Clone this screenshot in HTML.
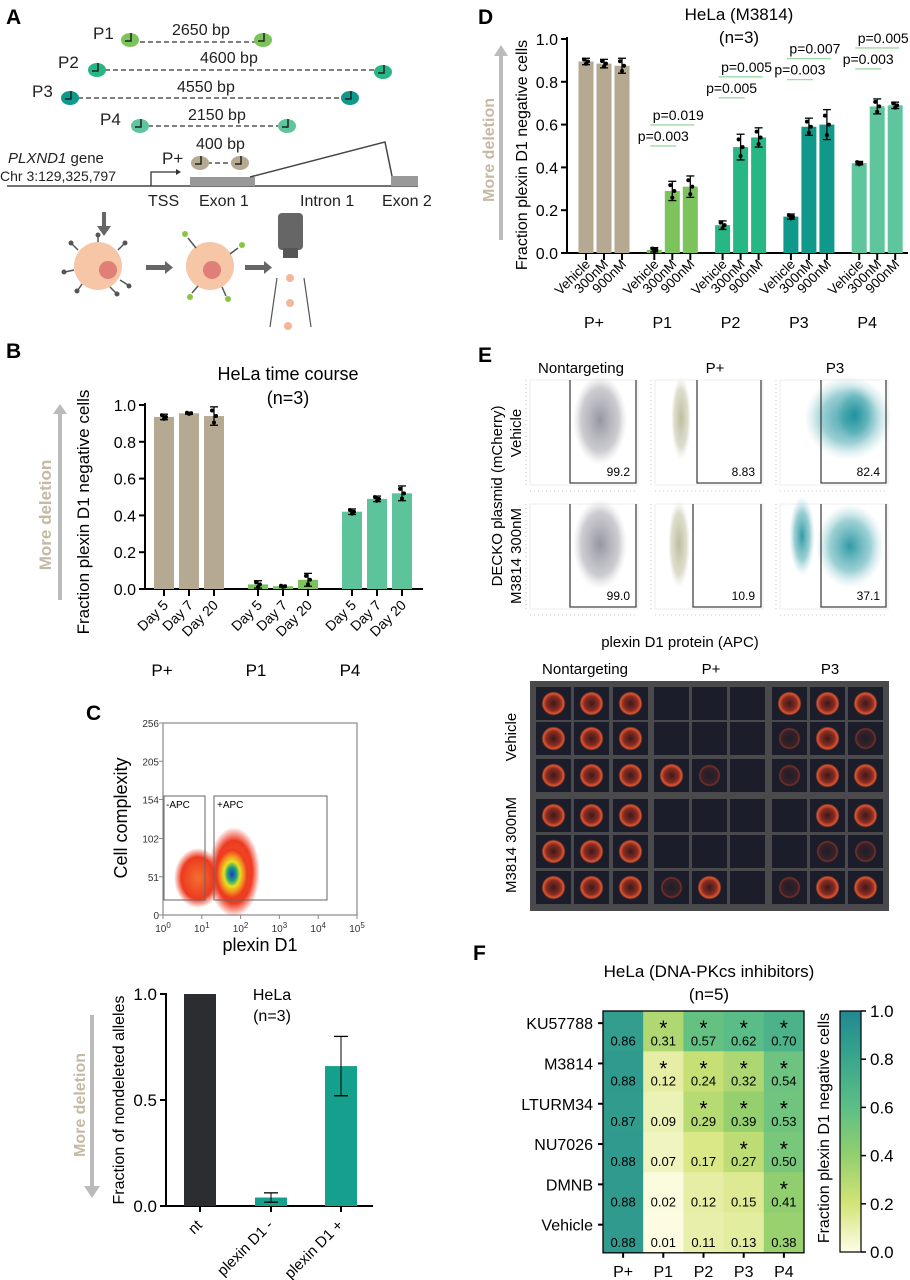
<!DOCTYPE html>
<html><head><meta charset="utf-8"><style>
html,body{margin:0;padding:0;background:#fff;}
svg{display:block;font-family:"Liberation Sans",Arial,sans-serif;}
</style></head><body>
<svg id="fig" width="910" height="1280" viewBox="0 0 910 1280" xmlns="http://www.w3.org/2000/svg">
<defs>
<radialGradient id="gGray"><stop offset="0" stop-color="#8a8a95" stop-opacity="0.9"/><stop offset="0.7" stop-color="#a9a9b2" stop-opacity="0.6"/><stop offset="1" stop-color="#c8c8cf" stop-opacity="0"/></radialGradient>
<radialGradient id="gOlive"><stop offset="0" stop-color="#b9b99a" stop-opacity="0.95"/><stop offset="0.7" stop-color="#c8c8ad" stop-opacity="0.6"/><stop offset="1" stop-color="#dcdccb" stop-opacity="0"/></radialGradient>
<radialGradient id="gTeal"><stop offset="0" stop-color="#1a8f9a" stop-opacity="0.9"/><stop offset="0.6" stop-color="#4aa9b2" stop-opacity="0.55"/><stop offset="1" stop-color="#9fd0d5" stop-opacity="0"/></radialGradient>
<radialGradient id="gCell"><stop offset="0" stop-color="#3a1a1a"/><stop offset="0.6" stop-color="#8a2c22"/><stop offset="0.85" stop-color="#e0552e"/><stop offset="1" stop-color="#1b1e2a"/></radialGradient>
<radialGradient id="gCellF"><stop offset="0" stop-color="#1e1d28"/><stop offset="0.75" stop-color="#3a2228"/><stop offset="0.88" stop-color="#7a3228"/><stop offset="1" stop-color="#1b1e2a"/></radialGradient>
<radialGradient id="gJet"><stop offset="0" stop-color="#1a3ad0"/><stop offset="0.25" stop-color="#1fa07a"/><stop offset="0.45" stop-color="#e8e020"/><stop offset="0.65" stop-color="#f29020"/><stop offset="0.85" stop-color="#ee3a20"/><stop offset="1" stop-color="#ee3a20" stop-opacity="0"/></radialGradient>
<radialGradient id="gRed"><stop offset="0" stop-color="#f07030"/><stop offset="0.7" stop-color="#ee3a20"/><stop offset="1" stop-color="#ee3a20" stop-opacity="0"/></radialGradient>
<linearGradient id="cbar" x1="0" y1="1" x2="0" y2="0">
<stop offset="0" stop-color="#fffde8"/><stop offset="0.2" stop-color="#d3e477"/><stop offset="0.4" stop-color="#93cf6e"/><stop offset="0.6" stop-color="#5dbe86"/><stop offset="0.8" stop-color="#3aa68c"/><stop offset="1" stop-color="#218892"/>
</linearGradient>
</defs>

<g font-weight="bold" font-size="21" fill="#000">
<text x="6" y="24">A</text>
<text x="6" y="358">B</text>
<text x="86" y="720">C</text>
<text x="478" y="24">D</text>
<text x="478" y="362">E</text>
<text x="473" y="960">F</text>
</g>

<g id="panelA" font-size="16" fill="#222">
<g stroke="#333" stroke-dasharray="5,3" stroke-width="1.2">
<line x1="140" y1="42" x2="255" y2="42"/><line x1="105" y1="70" x2="375" y2="70"/>
<line x1="78" y1="98" x2="343" y2="98"/><line x1="148" y1="126" x2="290" y2="126"/><line x1="207" y1="163" x2="235" y2="163"/>
</g>
<text x="93" y="39" font-size="17">P1</text>
<text x="172" y="35">2650 bp</text>
<text x="58" y="68" font-size="17">P2</text>
<text x="200" y="63">4600 bp</text>
<text x="32" y="97" font-size="17">P3</text>
<text x="177" y="92">4550 bp</text>
<text x="100" y="125" font-size="17">P4</text>
<text x="188" y="120">2150 bp</text>
<text x="196" y="149">400 bp</text>
<text x="162" y="164" font-size="17">P+</text>
<g id="guides"></g>
<text x="8" y="163" font-size="15"><tspan font-style="italic">PLXND1</tspan> gene</text>
<text x="0" y="181" font-size="14">Chr 3:129,325,797</text>
<line x1="7" y1="186" x2="418" y2="186" stroke="#444" stroke-width="1.5"/>
<rect x="190" y="177" width="65" height="9" fill="#999"/>
<rect x="391" y="176" width="27" height="10" fill="#999"/>
<polyline points="250,177 385,142 392,176" fill="none" stroke="#444" stroke-width="1.5"/>
<polyline points="151,186 151,172 176,172" fill="none" stroke="#333" stroke-width="1.3"/>
<polygon points="176,169 181,172 176,175" fill="#333"/>
<text x="148" y="206">TSS</text><text x="199" y="206">Exon 1</text><text x="300" y="206">Intron 1</text><text x="382" y="206">Exon 2</text>
<rect x="102" y="212" width="4" height="16" fill="#666"/><polygon points="97,226 111,226 104,236" fill="#666"/>
<circle cx="98" cy="266" r="24" fill="#f6c6a6"/><circle cx="108" cy="270" r="9" fill="#e07f78"/>
<circle cx="210" cy="266" r="24" fill="#f6c6a6"/><circle cx="212" cy="270" r="9" fill="#e07f78"/>
<g stroke="#555" stroke-width="1.5">
<line x1="78" y1="250" x2="72" y2="244"/><line x1="118" y1="250" x2="124" y2="244"/><line x1="74" y1="270" x2="65" y2="272"/><line x1="120" y1="280" x2="128" y2="285"/><line x1="98" y1="242" x2="98" y2="236"/><line x1="110" y1="287" x2="116" y2="293"/><line x1="82" y1="284" x2="78" y2="290"/>
<line x1="196" y1="248" x2="188" y2="238"/><line x1="230" y1="254" x2="238" y2="248"/><line x1="198" y1="286" x2="192" y2="293"/><line x1="222" y1="287" x2="226" y2="296"/>
</g>
<g fill="#555"><circle cx="71" cy="243" r="2.5"/><circle cx="125" cy="243" r="2.5"/><circle cx="64" cy="272" r="2.5"/><circle cx="129" cy="286" r="2.5"/><circle cx="98" cy="235" r="2.5"/><circle cx="117" cy="294" r="2.5"/><circle cx="77" cy="291" r="2.5"/></g>
<g fill="#8cc63f"><circle cx="185" cy="234" r="3"/><circle cx="242" cy="245" r="3"/><circle cx="190" cy="297" r="3"/><circle cx="228" cy="299" r="3"/></g>
<rect x="146" y="265" width="20" height="5" fill="#666"/><polygon points="165,261 173,267.5 165,274" fill="#666"/>
<rect x="245" y="265" width="20" height="5" fill="#666"/><polygon points="264,261 272,267.5 264,274" fill="#666"/>
<rect x="278" y="213" width="25" height="37" rx="4" fill="#666"/><rect x="283" y="248" width="15" height="10" fill="#555"/>
<line x1="277" y1="278" x2="270" y2="327" stroke="#555" stroke-width="1.2"/><line x1="304" y1="278" x2="311" y2="327" stroke="#555" stroke-width="1.2"/>
<g fill="#f2b79a"><circle cx="290" cy="278" r="4"/><circle cx="290" cy="303" r="4"/><circle cx="288" cy="326" r="4"/></g>
</g>

<g id="panelB"></g>
<g id="panelC"></g>
<g id="panelC2"></g>
<g id="panelD"></g>
<g id="panelE"></g>
<g id="panelF"></g>
</svg>

<script>
// ---- Panel B data ----
const bGroups = ["P+","P1","P4"];
const bTicks = ["Day 5","Day 7","Day 20"];
const bValues = [[0.935,0.955,0.94],[0.025,0.015,0.05],[0.42,0.49,0.52]];
const bErr = [[0.015,0.005,0.05],[0.02,0.005,0.035],[0.015,0.015,0.04]];
const bYTicks = [0,0.2,0.4,0.6,0.8,1.0];
// ---- Panel C bar data ----
const cCats = ["nt","plexin D1 -","plexin D1 +"];
const cValues = [1.0,0.04,0.66];
const cErr = [0.0,0.022,0.14];
const cYTicks = [0,0.5,1.0];
// ---- Panel D data ----
const dGroups = ["P+","P1","P2","P3","P4"];
const dTicks = ["Vehicle","300nM","900nM"];
const dValues = [[0.895,0.885,0.875],[0.015,0.29,0.31],[0.13,0.495,0.54],[0.17,0.59,0.60],[0.42,0.685,0.69]];
const dErr = [[0.015,0.02,0.035],[0.01,0.045,0.05],[0.02,0.06,0.045],[0.012,0.04,0.07],[0.008,0.035,0.015]];
const dPvals = [[],["p=0.003","p=0.019"],["p=0.005","p=0.005"],["p=0.003","p=0.007"],["p=0.003","p=0.005"]];
const dYTicks = [0,0.2,0.4,0.6,0.8,1.0];
// ---- Panel E data ----
const eCols = ["Nontargeting","P+","P3"];
const eRows = ["Vehicle","M3814 300nM"];
const ePct = [["99.2","8.83","82.4"],["99.0","10.9","37.1"]];
const eCellBright = [[2,2,2,0,0,0,2,2,2],[2,2,2,0,0,0,1,2,1],[2,2,2,2,1,0,1,2,2],[2,2,2,0,0,0,0,2,2],[2,2,2,0,0,0,0,1,1],[2,2,2,1,2,0,1,2,2]];
// ---- Panel F data ----
const fRows = ["KU57788","M3814","LTURM34","NU7026","DMNB","Vehicle"];
const fCols = ["P+","P1","P2","P3","P4"];
const fValues = [[0.86,0.31,0.57,0.62,0.70],[0.88,0.12,0.24,0.32,0.54],[0.87,0.09,0.29,0.39,0.53],[0.88,0.07,0.17,0.27,0.50],[0.88,0.02,0.12,0.15,0.41],[0.88,0.01,0.11,0.13,0.38]];
const fSig = [[0,1,1,1,1],[0,1,1,1,1],[0,0,1,1,1],[0,0,0,1,1],[0,0,0,0,1],[0,0,0,0,0]];
const fCbTicks = [0,0.2,0.4,0.6,0.8,1.0];

const NS="http://www.w3.org/2000/svg";
function mk(parent, tag, attrs, name, txt){
  const el=document.createElementNS(NS,tag);
  for(const k in attrs) el.setAttribute(k,attrs[k]);
  
  
  if(txt!==undefined) el.textContent=txt;
  parent.appendChild(el); return el;
}
function fmt(v,d){return v.toFixed(d);}

(function(){
  const g=document.getElementById('guides');
  const pts=[[130,40,"#7bc35a"],[263,40,"#7bc35a"],[97,70,"#27b784"],[383,72,"#27b784"],[70,98,"#10998a"],[350,98,"#10998a"],[140,126,"#5fc59d"],[287,126,"#5fc59d"],[200,163,"#b5aa91"],[240,163,"#b5aa91"]];
  pts.forEach(p=>{
    mk(g,'ellipse',{cx:p[0],cy:p[1],rx:9,ry:7,fill:p[2]},'sgrna-guide');
    mk(g,'polyline',{points:`${p[0]-5},${p[1]+1} ${p[0]+1},${p[1]+1} ${p[0]+1},${p[1]-7}`,fill:'none',stroke:'#222','stroke-width':1.5},'guide-stem');
  });
})();

function barChart(opts){
  const g=document.getElementById(opts.id);
  const y=v=>opts.y0-v*opts.ys;
  mk(g,'line',{x1:opts.ax,y1:y(1)-2,x2:opts.ax,y2:opts.y0,stroke:'#000','stroke-width':2},'y-axis');
  mk(g,'line',{x1:opts.ax-4,y1:opts.y0,x2:opts.axEnd,y2:opts.y0,stroke:'#000','stroke-width':2},'x-axis');
  opts.yticks.forEach(t=>{
    mk(g,'line',{x1:opts.ax-6,y1:y(t),x2:opts.ax,y2:y(t),stroke:'#000','stroke-width':2},'y-tick');
    mk(g,'text',{x:opts.ax-9,y:y(t)+6,'text-anchor':'end','font-size':opts.fs},'y-tick-label',fmt(t,1));
  });
  opts.values.forEach((grp,gi)=>{
    grp.forEach((v,bi)=>{
      const cx=opts.gx0+gi*opts.gstep+(bi-1)*opts.boff;
      mk(g,'rect',{x:cx-opts.bw/2,y:y(v),width:opts.bw,height:opts.y0-y(v),fill:opts.colors[gi]},'bar-'+opts.groups[gi]+'-'+opts.ticks[bi]);
      const e=opts.err[gi][bi];
      mk(g,'line',{x1:cx,y1:y(v+e),x2:cx,y2:y(Math.max(0,v-e)),stroke:'#000','stroke-width':1.3},'error-bar');
      mk(g,'line',{x1:cx-4,y1:y(v+e),x2:cx+4,y2:y(v+e),stroke:'#000','stroke-width':1.3},'error-cap');
      mk(g,'line',{x1:cx-4,y1:y(Math.max(0,v-e)),x2:cx+4,y2:y(Math.max(0,v-e)),stroke:'#000','stroke-width':1.3},'error-cap');
      mk(g,'circle',{cx:cx-2,cy:y(v+e*0.6),r:2,fill:'#000'},'data-point');
      mk(g,'circle',{cx:cx+2,cy:y(v),r:2,fill:'#000'},'data-point');
      mk(g,'circle',{cx:cx,cy:y(Math.max(0,v-e*0.7)),r:2,fill:'#000'},'data-point');
      mk(g,'line',{x1:cx,y1:opts.y0,x2:cx,y2:opts.y0+7,stroke:'#000','stroke-width':2},'x-tick');
      const tx=cx+5, ty=opts.y0+opts.tickDy;
      mk(g,'text',{x:tx,y:ty,'text-anchor':'end','font-size':opts.tfs,transform:`rotate(-45 ${tx} ${ty})`},'x-tick-label',opts.ticks[bi]);
    });
    mk(g,'text',{x:opts.gx0+gi*opts.gstep+opts.glDx,y:opts.glY,'text-anchor':'middle','font-size':opts.gfs},'group-label',opts.groups[gi]);
  });
}

barChart({id:'panelB',values:bValues,err:bErr,groups:bGroups,ticks:bTicks,yticks:bYTicks,
  colors:['#b5aa91','#7bc35a','#5cc39a'],ax:145,axEnd:423,y0:589,ys:184,gx0:189,gstep:94,boff:25,bw:20,
  fs:16,tfs:14,tickDy:17,gfs:17,glY:676,glDx:-27});
(function(){
  const g=document.getElementById('panelB');
  mk(g,'text',{x:288,y:380,'text-anchor':'middle','font-size':18},'chart-title','HeLa time course');
  mk(g,'text',{x:288,y:404,'text-anchor':'middle','font-size':18},'chart-subtitle','(n=3)');
  mk(g,'text',{x:0,y:0,'text-anchor':'middle','font-size':17,transform:'translate(89 512) rotate(-90)'},'y-axis-title','Fraction plexin D1 negative cells');
  mk(g,'text',{x:0,y:0,'text-anchor':'middle','font-size':17,'font-weight':'bold',fill:'#c4b9a2',transform:'translate(51 515) rotate(-90)'},'more-deletion-label','More deletion');
  mk(g,'line',{x1:60,y1:600,x2:60,y2:412,stroke:'#bbb','stroke-width':4},'more-deletion-arrow');
  mk(g,'polygon',{points:'53,414 67,414 60,404',fill:'#bbb'},'arrow-head');
})();

barChart({id:'panelD',values:dValues,err:dErr,groups:dGroups,ticks:dTicks,yticks:dYTicks,
  colors:['#b5aa91','#7bc35a','#27b784','#10998a','#5fc59d'],ax:567,axEnd:908,y0:253,ys:214,gx0:604,gstep:68.3,boff:18,bw:15,
  fs:16,tfs:13.5,tickDy:12,gfs:16,glY:328,glDx:-10});
(function(){
  const g=document.getElementById('panelD');
  mk(g,'text',{x:739,y:20,'text-anchor':'middle','font-size':17},'chart-title','HeLa (M3814)');
  mk(g,'text',{x:739,y:43,'text-anchor':'middle','font-size':17},'chart-subtitle','(n=3)');
  mk(g,'text',{x:0,y:0,'text-anchor':'middle','font-size':16,transform:'translate(527 155) rotate(-90)'},'y-axis-title','Fraction plexin D1 negative cells');
  mk(g,'text',{x:0,y:0,'text-anchor':'middle','font-size':16,'font-weight':'bold',fill:'#c4b9a2',transform:'translate(494 150) rotate(-90)'},'more-deletion-label','More deletion');
  mk(g,'line',{x1:501,y1:240,x2:501,y2:54,stroke:'#bbb','stroke-width':4},'more-deletion-arrow');
  mk(g,'polygon',{points:'494,56 508,56 501,45',fill:'#bbb'},'arrow-head');
  const y=v=>253-v*214;
  dPvals.forEach((pv,gi)=>{
    pv.forEach((p,k)=>{
      const gx=604+gi*68.3;
      const top=Math.max(dValues[gi][1]+dErr[gi][1],dValues[gi][2]+dErr[gi][2]);
      const ly=y(top)-30-k*21;
      const x1=gx-18-4, x2=gx+(k===0?0:18)+4;
      mk(g,'line',{x1:x1,y1:ly,x2:x2,y2:ly,stroke:'#9fd8a8','stroke-width':1.3},'significance-line');
      mk(g,'text',{x:(x1+x2)/2+(k?6:0),y:ly-5,'text-anchor':'middle','font-size':14},'p-value',p);
    });
  });
})();

(function(){
  const g=document.getElementById('panelC');
  const x0=163,x1=357,y0=915,y1=723;
  mk(g,'ellipse',{cx:198,cy:878,rx:24,ry:30,fill:'url(#gRed)'},'cloud-negative');
  mk(g,'ellipse',{cx:234,cy:872,rx:26,ry:45,fill:'url(#gRed)'},'cloud-positive');
  mk(g,'ellipse',{cx:232,cy:874,rx:18,ry:28,fill:'url(#gJet)'},'cloud-core');
  mk(g,'rect',{x:x0,y:y1,width:x1-x0,height:y0-y1,fill:'none',stroke:'#888','stroke-width':1.2},'plot-frame');
  mk(g,'rect',{x:164,y:796,width:41,height:104,fill:'none',stroke:'#666','stroke-width':1},'gate-negative');
  mk(g,'rect',{x:214,y:796,width:113,height:104,fill:'none',stroke:'#666','stroke-width':1},'gate-positive');
  mk(g,'text',{x:166,y:808,'font-size':10},'gate-label','-APC');
  mk(g,'text',{x:217,y:808,'font-size':10},'gate-label','+APC');
  const yt=[0,51,102,154,205,256];
  yt.forEach(t=>{const yy=y0-t/256*(y0-y1);
    mk(g,'line',{x1:x0-4,y1:yy,x2:x0,y2:yy,stroke:'#888'},'y-tick');
    mk(g,'text',{x:x0-4,y:yy+4,'text-anchor':'end','font-size':10,fill:'#333'},'y-tick-label',String(t));});
  for(let i=0;i<=5;i++){const xx=x0+i*(x1-x0)/5;
    mk(g,'line',{x1:xx,y1:y0,x2:xx,y2:y0+4,stroke:'#888'},'x-tick');
    const t=mk(g,'text',{x:xx,y:y0+17,'text-anchor':'middle','font-size':10,fill:'#333'},'x-tick-label','10');
    const s=document.createElementNS(NS,'tspan');s.setAttribute('dy','-4');s.setAttribute('font-size','8');s.textContent=String(i);t.appendChild(s);}
  mk(g,'text',{x:260,y:951,'text-anchor':'middle','font-size':18},'x-axis-title','plexin D1');
  mk(g,'text',{x:0,y:0,'text-anchor':'middle','font-size':18,transform:'translate(127 818) rotate(-90)'},'y-axis-title','Cell complexity');
})();

(function(){
  const g=document.getElementById('panelC2');
  const ax=166,y0=1206,ys=212,y=v=>y0-v*ys;
  const cx=[200,271,341],cols=['#2b2d30','#14a08c','#14a08c'];
  mk(g,'line',{x1:ax,y1:y(1)-1,x2:ax,y2:y0,stroke:'#000','stroke-width':2},'y-axis');
  mk(g,'line',{x1:ax,y1:y0,x2:373,y2:y0,stroke:'#000','stroke-width':2},'x-axis');
  cYTicks.forEach(t=>{mk(g,'line',{x1:ax-6,y1:y(t),x2:ax,y2:y(t),stroke:'#000','stroke-width':2},'y-tick');
    mk(g,'text',{x:ax-9,y:y(t)+6,'text-anchor':'end','font-size':17},'y-tick-label',fmt(t,1));});
  cValues.forEach((v,i)=>{
    mk(g,'rect',{x:cx[i]-16,y:y(v),width:32,height:y0-y(v),fill:cols[i]},'bar-'+cCats[i]);
    const e=cErr[i];
    if(e>0){mk(g,'line',{x1:cx[i],y1:y(v+e),x2:cx[i],y2:y(v-e),stroke:'#000'},'error-bar');
      mk(g,'line',{x1:cx[i]-7,y1:y(v+e),x2:cx[i]+7,y2:y(v+e),stroke:'#000','stroke-width':1.3},'error-cap');
      mk(g,'line',{x1:cx[i]-7,y1:y(v-e),x2:cx[i]+7,y2:y(v-e),stroke:'#000','stroke-width':1.3},'error-cap');}
    mk(g,'line',{x1:cx[i],y1:y0,x2:cx[i],y2:y0+6,stroke:'#000','stroke-width':2},'x-tick');
    const tx=cx[i]+3,ty=y0+20;
    mk(g,'text',{x:tx,y:ty,'text-anchor':'end','font-size':15,transform:`rotate(-45 ${tx} ${ty})`},'x-tick-label',cCats[i]);
  });
  mk(g,'text',{x:272,y:1000,'text-anchor':'middle','font-size':16},'chart-title','HeLa');
  mk(g,'text',{x:272,y:1021,'text-anchor':'middle','font-size':16},'chart-subtitle','(n=3)');
  mk(g,'text',{x:0,y:0,'text-anchor':'middle','font-size':16,transform:'translate(124 1100) rotate(-90)'},'y-axis-title','Fraction of nondeleted alleles');
  mk(g,'text',{x:0,y:0,'text-anchor':'middle','font-size':16,'font-weight':'bold',fill:'#c4b9a2',transform:'translate(85 1105) rotate(-90)'},'more-deletion-label','More deletion');
  mk(g,'line',{x1:92,y1:1015,x2:92,y2:1188,stroke:'#bbb','stroke-width':4},'more-deletion-arrow');
  mk(g,'polygon',{points:'84,1186 100,1186 92,1198',fill:'#bbb'},'arrow-head');
})();

(function(){
  const g=document.getElementById('panelE');
  const colX=[530,655,780],rowY=[380,504],w=108,h=105;
  const titleX=[581,715,835];
  eCols.forEach((c,i)=>mk(g,'text',{x:titleX[i],y:373,'text-anchor':'middle','font-size':15},'column-title',c));
  const gateX=[[40,42,41],[40,38,41]];
  const clouds=[
    [[{cx:70,cy:40,rx:27,ry:45,f:'url(#gGray)'}],[{cx:26,cy:38,rx:10,ry:42,f:'url(#gOlive)'}],[{cx:68,cy:38,rx:44,ry:42,f:'url(#gTeal)'},{cx:75,cy:35,rx:22,ry:30,f:'url(#gTeal)'}]],
    [[{cx:70,cy:40,rx:27,ry:45,f:'url(#gGray)'}],[{cx:24,cy:40,rx:11,ry:44,f:'url(#gOlive)'}],[{cx:22,cy:32,rx:13,ry:40,f:'url(#gTeal)'},{cx:70,cy:42,rx:34,ry:42,f:'url(#gTeal)'}]]];
  rowY.forEach((ry,r)=>colX.forEach((cxp,c)=>{
    mk(g,'rect',{x:cxp,y:ry,width:w,height:h,fill:'#fff',stroke:'#eee'},'flow-plot-frame');
    clouds[r][c].forEach(cl=>mk(g,'ellipse',{cx:cxp+cl.cx,cy:ry+cl.cy,rx:cl.rx,ry:cl.ry,fill:cl.f},'flow-cloud'));
    const gx=cxp+gateX[r][c];
    mk(g,'polyline',{points:`${gx},${ry} ${gx},${ry+h-2} ${cxp+w-2},${ry+h-2} ${cxp+w-2},${ry}`,fill:'none',stroke:'#444','stroke-width':1.3},'gate');
    mk(g,'text',{x:cxp+w-8,y:ry+h-9,'text-anchor':'end','font-size':12},'gate-percent',ePct[r][c]);
    mk(g,'line',{x1:cxp,y1:ry+h+6,x2:cxp+w,y2:ry+h+6,stroke:'#999','stroke-width':0.6,'stroke-dasharray':'1,3'},'x-axis');
    mk(g,'line',{x1:cxp-4,y1:ry,x2:cxp-4,y2:ry+h,stroke:'#999','stroke-width':0.6,'stroke-dasharray':'1,3'},'y-axis');
  }));
  mk(g,'text',{x:0,y:0,'text-anchor':'middle','font-size':15,transform:'translate(502 496) rotate(-90)'},'y-axis-title','DECKO plasmid (mCherry)');
  mk(g,'text',{x:0,y:0,'text-anchor':'middle','font-size':15,transform:'translate(521 433) rotate(-90)'},'row-label','Vehicle');
  mk(g,'text',{x:0,y:0,'text-anchor':'middle','font-size':15,transform:'translate(521 556) rotate(-90)'},'row-label','M3814 300nM');
  mk(g,'text',{x:680,y:647,'text-anchor':'middle','font-size':15},'x-axis-title','plexin D1 protein (APC)');
  eCols.forEach((c,i)=>mk(g,'text',{x:[585,711,830][i],y:674,'text-anchor':'middle','font-size':15},'image-column-title',c));
  mk(g,'rect',{x:530,y:681,width:359,height:230,fill:'#4a4a4c'},'image-grid');
  const tx=[536,574,613,654,692,730,772,810,848],ty=[687,722,759,799,835,871];
  ty.forEach((yy,r)=>tx.forEach((xx,c)=>{
    mk(g,'rect',{x:xx,y:yy,width:35,height:33,fill:'#1b1e2a'},'image-tile');
    const b=eCellBright[r][c];
    if(b>0) mk(g,'circle',{cx:xx+17.5,cy:yy+16.5,r:b===2?12:11,fill:b===2?'url(#gCell)':'url(#gCellF)'},'cell-image');
  }));
  mk(g,'text',{x:0,y:0,'text-anchor':'middle','font-size':15,transform:'translate(516 737) rotate(-90)'},'image-row-label','Vehicle');
  mk(g,'text',{x:0,y:0,'text-anchor':'middle','font-size':15,transform:'translate(516 845) rotate(-90)'},'image-row-label','M3814 300nM');
})();

(function(){
  const g=document.getElementById('panelF');
  const stops=[[0,[255,253,232]],[0.2,[211,228,119]],[0.4,[147,207,110]],[0.6,[93,190,134]],[0.8,[58,166,140]],[1,[33,136,146]]];
  function col(v){for(let i=1;i<stops.length;i++){if(v<=stops[i][0]){const a=stops[i-1],b=stops[i],t=(v-a[0])/(b[0]-a[0]);
    return 'rgb('+a[1].map((c,k)=>Math.round(c+(b[1][k]-c)*t)).join(',')+')';}}return 'rgb(33,136,146)';}
  const x0=603,y0=1011,cw=40.2,rh=40.3;
  mk(g,'text',{x:709,y:977,'text-anchor':'middle','font-size':17},'chart-title','HeLa (DNA-PKcs inhibitors)');
  mk(g,'text',{x:709,y:1000,'text-anchor':'middle','font-size':17},'chart-subtitle','(n=5)');
  fValues.forEach((row,r)=>row.forEach((v,c)=>{
    mk(g,'rect',{x:x0+c*cw,y:y0+r*rh,width:cw+0.5,height:rh+0.5,fill:col(v)},'heatmap-cell');
    mk(g,'text',{x:x0+c*cw+cw/2,y:y0+r*rh+rh-6,'text-anchor':'middle','font-size':13},'cell-value',fmt(v,2));
    if(fSig[r][c]) mk(g,'text',{x:x0+c*cw+cw/2,y:y0+r*rh+24,'text-anchor':'middle','font-size':21},'significance-star','*');
  }));
  mk(g,'rect',{x:x0,y:y0,width:cw*5,height:rh*6,fill:'none',stroke:'#000','stroke-width':1.3},'heatmap-frame');
  fRows.forEach((n,r)=>{const yy=y0+r*rh+rh/2-8;
    mk(g,'line',{x1:x0-5,y1:yy,x2:x0,y2:yy,stroke:'#000','stroke-width':2},'y-tick');
    mk(g,'text',{x:x0-10,y:yy+6,'text-anchor':'end','font-size':16},'row-label',n);});
  fCols.forEach((n,c)=>{const xx=x0+c*cw+cw/2;
    mk(g,'line',{x1:xx,y1:y0+rh*6,x2:xx,y2:y0+rh*6+5,stroke:'#000','stroke-width':2},'x-tick');
    mk(g,'text',{x:xx,y:1277,'text-anchor':'middle','font-size':16},'column-label',n);});
  const cbx=840,cby=1011,cbh=241;
  mk(g,'rect',{x:cbx,y:cby,width:21,height:cbh,fill:'url(#cbar)',stroke:'#000','stroke-width':1.2},'colorbar');
  fCbTicks.forEach(t=>{const yy=cby+cbh-t*cbh;
    mk(g,'line',{x1:cbx+21,y1:yy,x2:cbx+26,y2:yy,stroke:'#000','stroke-width':1.5},'colorbar-tick');
    mk(g,'text',{x:cbx+30,y:yy+6,'font-size':17},'colorbar-label',fmt(t,1));});
  mk(g,'text',{x:0,y:0,'text-anchor':'middle','font-size':16,transform:'translate(829 1128) rotate(-90)'},'colorbar-title','Fraction plexin D1 negative cells');
})();
</script>
</body></html>
